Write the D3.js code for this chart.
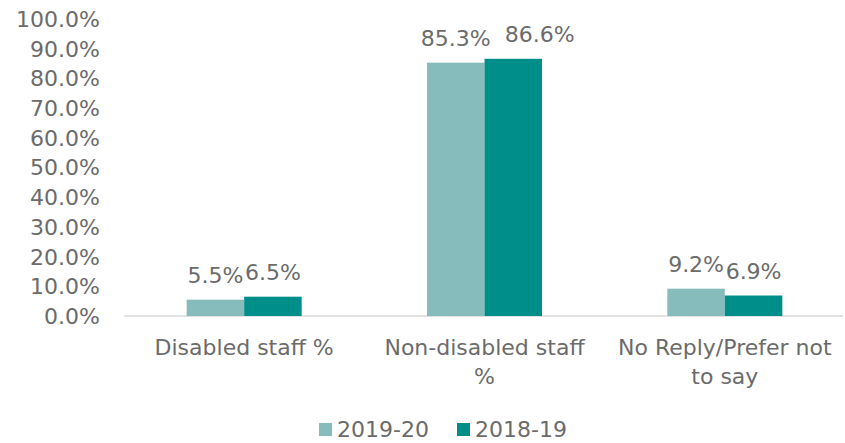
<!DOCTYPE html>
<html lang="en">
<head>
<meta charset="utf-8">
<title>Disabled staff</title>
<script src="https://d3js.org/d3.v7.min.js"></script>
<style>
  body { margin: 0; background: #fff; }
  svg text { font-family: "DejaVu Sans", sans-serif; fill: #6b6b6b; }
</style>
</head>
<body>
<svg id="chart" width="845" height="443"></svg>
<script>
const categories = ["Disabled staff %", "Non-disabled staff %", "No Reply/Prefer not to say"];
const seriesNames = ["2019-20", "2018-19"];
const values2019 = [5.5, 85.3, 9.2];
const values2018 = [6.5, 86.6, 6.9];
const yTicks = [0, 10, 20, 30, 40, 50, 60, 70, 80, 90, 100];
const colors = ["#86bcbc", "#008e8a"];

const plotLeft = 124, plotRight = 845, plotTop = 19, plotBottom = 316;
const fontSize = 22;

const svg = d3.select("#chart");

const x = d3.scaleBand().domain(categories).range([plotLeft, plotRight]);
const x1 = d3.scaleBand().domain(seriesNames).range([0, 115]);
const y = d3.scaleLinear().domain([0, 100]).range([plotBottom, plotTop]);

// y axis labels
svg.append("g").selectAll("text")
  .data(yTicks).enter().append("text")
  .attr("x", 100)
  .attr("y", d => y(d))
  .attr("dy", "0.36em")
  .attr("text-anchor", "end")
  .style("font-size", fontSize + "px")
  .text(d => d.toFixed(1) + "%");

// baseline
svg.append("line")
  .attr("x1", plotLeft).attr("x2", plotRight - 2)
  .attr("y1", y(0)).attr("y2", y(0))
  .attr("stroke", "#d9d9d9").attr("stroke-width", 1.5);

const data = categories.map((c, i) => ({ cat: c, vals: [values2019[i], values2018[i]] }));

const groups = svg.append("g").selectAll("g")
  .data(data).enter().append("g")
  .attr("transform", d => "translate(" + (x(d.cat) + x.bandwidth() / 2 - 57.5) + ",0)");

groups.selectAll("rect")
  .data(d => d.vals.map((v, j) => ({ v: v, s: seriesNames[j], j: j })))
  .enter().append("rect")
  .attr("x", d => x1(d.s))
  .attr("width", x1.bandwidth())
  .attr("y", d => y(d.v))
  .attr("height", d => y(0) - y(d.v))
  .attr("fill", d => colors[d.j]);

groups.each(function () {
  const labels = d3.select(this).selectAll("text.val")
    .data(d => d.vals.map((v, j) => ({ v: v, s: seriesNames[j] })))
    .enter().append("text")
    .attr("class", "val")
    .attr("x", d => x1(d.s) + x1.bandwidth() / 2)
    .attr("y", d => y(d.v) - 17)
    .attr("text-anchor", "middle")
    .style("font-size", fontSize + "px")
    .text(d => d.v.toFixed(1) + "%");

  // nudge a label right when it runs into the one before it
  const nodes = labels.nodes();
  for (let k = 1; k < nodes.length; k++) {
    const a = nodes[k - 1].getBBox(), b = nodes[k].getBBox();
    const overlapX = a.x + a.width - b.x;
    const overlapY = Math.min(a.y + a.height, b.y + b.height) - Math.max(a.y, b.y);
    if (overlapX > 3 && overlapY > 6) {
      d3.select(nodes[k]).attr("x", +nodes[k].getAttribute("x") + overlapX + 14);
    }
  }
});

// category labels with wrapping
function wrap(str, maxW) {
  const words = str.split(" ");
  const lines = [];
  let line = "";
  const probe = svg.append("text").style("font-size", fontSize + "px");
  words.forEach(w => {
    const test = line ? line + " " + w : w;
    probe.text(test);
    if (probe.node().getComputedTextLength() > maxW && line) {
      lines.push(line);
      line = w;
    } else {
      line = test;
    }
  });
  lines.push(line);
  probe.remove();
  return lines;
}

categories.forEach(c => {
  const lines = wrap(c, 220);
  const t = svg.append("text")
    .attr("text-anchor", "middle")
    .style("font-size", fontSize + "px");
  lines.forEach((l, i) => {
    t.append("tspan")
      .attr("x", x(c) + x.bandwidth() / 2)
      .attr("y", 355 + i * 29)
      .text(l);
  });
});

// legend
const legendX = [319, 457];
seriesNames.forEach((s, i) => {
  svg.append("rect")
    .attr("x", legendX[i]).attr("y", 423)
    .attr("width", 13).attr("height", 13)
    .attr("fill", colors[i]);
  svg.append("text")
    .attr("x", legendX[i] + 18).attr("y", 437)
    .style("font-size", fontSize + "px")
    .text(s);
});
</script>
</body>
</html>
